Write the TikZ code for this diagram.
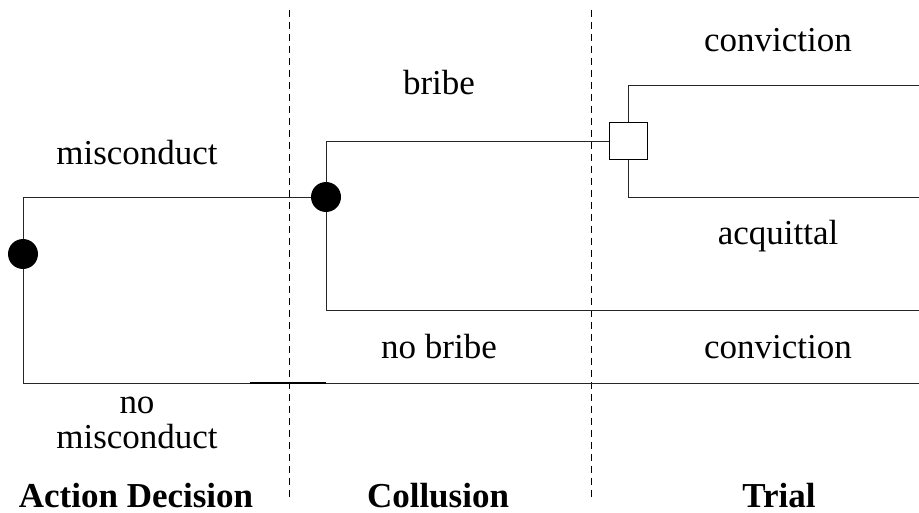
\documentclass[tikz,border=0pt]{standalone}
\usepackage{fontspec}
\setmainfont{Liberation Serif}
\begin{document}
\begin{tikzpicture}[x=1pt,y=-1pt,
  branch/.style={line width=0.9pt, draw=black!85},
  chance/.style={circle, fill=black, inner sep=0pt, minimum size=30pt},
  trialbox/.style={rectangle, draw=black, fill=white, line width=0.9pt, inner sep=0pt, minimum width=38pt, minimum height=37pt},
  sep/.style={dashed, dash pattern=on 7pt off 5pt, line width=0.7pt},
  lbl/.style={font=\fontsize{35}{35}\selectfont, inner sep=0pt, anchor=base},
  stage/.style={font=\fontsize{35}{35}\selectfont\bfseries, inner sep=0pt, anchor=base}]
\useasboundingbox (0,0) rectangle (919,513);
% separators
\coordinate (s1t) at (289,10); \coordinate (s1b) at (289,500);
\coordinate (s2t) at (591,10); \coordinate (s2b) at (591,500);
\draw[sep] (s1t) -- (s1b);
\draw[sep] (s2t) -- (s2b);
% coordinates
\coordinate (a1) at (23,197);
\coordinate (a2) at (23,383);
\coordinate (e1) at (919,383);
\coordinate (c1) at (326,141);
\coordinate (c2) at (326,310);
\coordinate (e2) at (919,310);
\coordinate (t1) at (628,85);
\coordinate (t2) at (628,197);
\coordinate (e3) at (919,85);
\coordinate (e4) at (919,197);
\coordinate (m1) at (250,383);
\coordinate (m2) at (326,383);
% branches
\draw[branch] (a1) -- (a2) -- (e1);
\draw[branch] (a1) -- (326,197);
\draw[branch] (c1) -- (c2) -- (e2);
\draw[line width=1.3pt] (m1) -- (m2);
\draw[branch] (t1) -- (t2);
\draw[branch] (t1) -- (e3);
\draw[branch] (t2) -- (e4);
% nodes
\node[chance] (n1) at (23,254) {};
\node[chance] (n2) at (326,197) {};
\node[trialbox] (box) at (628,141) {};
\draw[branch] (c1) -- (box.west);
% labels
\node[lbl] (l1) at (778,52) {conviction};
\node[lbl] (l2) at (439,95) {bribe};
\node[lbl] (l3) at (137,165) {misconduct};
\node[lbl] (l4) at (778,245) {acquittal};
\node[lbl] (l5) at (439,358) {no bribe};
\node[lbl] (l6) at (778,358) {conviction};
\node[lbl, align=center] (l7) at (137,448) {no\\misconduct};
\node[stage] (h1) at (136,507) {Action Decision};
\node[stage] (h2) at (438,507) {Collusion};
\node[stage] (h3) at (779,507) {Trial};
\end{tikzpicture}
\end{document}
